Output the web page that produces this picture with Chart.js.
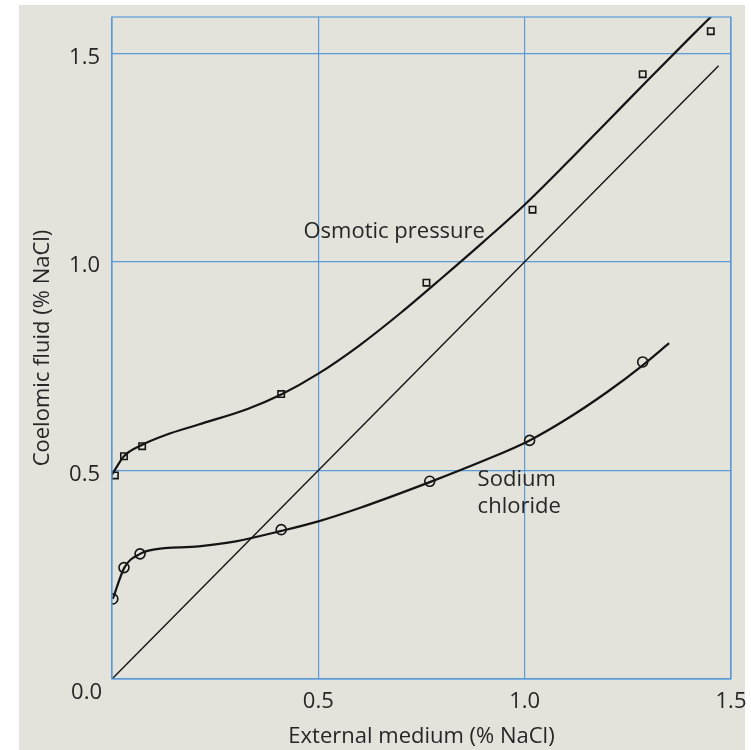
<!DOCTYPE html>
<html>
<head>
<meta charset="utf-8">
<script src="https://cdn.jsdelivr.net/npm/chart.js@4/dist/chart.umd.min.js"></script>
<style>
    html, body { margin: 0; padding: 0; background: #ffffff; }
    #wrap { width: 751px; height: 750px; }
</style>
</head>
<body>
<div id="wrap"><canvas id="chart" width="751" height="750"></canvas></div>
<script>
// measured points (squares = osmotic pressure, circles = sodium chloride)
const osmoticX = [0.007, 0.029, 0.073, 0.41, 0.762, 1.019, 1.286, 1.451]
const osmoticY = [0.488, 0.534, 0.558, 0.683, 0.95, 1.125, 1.45, 1.553]
const sodiumX = [0.002, 0.029, 0.068, 0.41, 0.77, 1.012, 1.286]
const sodiumY = [0.192, 0.267, 0.30, 0.358, 0.474, 0.572, 0.76]

// hand-drawn fitted curves
const osmoticCurveX = [0.0, 0.03, 0.07, 0.13, 0.21, 0.33, 0.41, 0.5, 0.6, 0.7, 0.8, 0.9, 1.0, 1.1, 1.2, 1.3, 1.4, 1.456]
const osmoticCurveY = [0.49, 0.535, 0.56, 0.585, 0.61, 0.648, 0.682, 0.732, 0.8, 0.878, 0.962, 1.048, 1.137, 1.235, 1.336, 1.437, 1.537, 1.592]
const sodiumCurveX = [0.002, 0.03, 0.068, 0.1, 0.21, 0.3, 0.41, 0.5, 0.6, 0.77, 0.9, 1.012, 1.1, 1.2, 1.286, 1.35]
const sodiumCurveY = [0.192, 0.267, 0.30, 0.31, 0.318, 0.33, 0.355, 0.378, 0.41, 0.472, 0.523, 0.572, 0.622, 0.688, 0.752, 0.805]

// isosmotic line
const isoX = [0, 1.47]
const isoY = [0, 1.47]

const xTicks = [0, 0.5, 1.0, 1.5]
const yTicks = [0, 0.5, 1.0, 1.5]

const bg = "#e3e3dc"
const gridBlue = "#5b9bd8"
const ink = "#141414"
const textColor = "#262626"
const fontFamily = "'Open Sans', 'DejaVu Sans', sans-serif"

const toPoints = (xs, ys) => xs.map((x, i) => ({ x, y: ys[i] }))

const backdrop = {
    id: "backdrop",
    beforeDraw(chart) {
        const ctx = chart.ctx
        ctx.save()
        ctx.fillStyle = bg
        ctx.fillRect(19, 5, 726, 745)
        ctx.restore()
    },
    afterDatasetsDraw(chart) {
        const { ctx, chartArea, scales } = chart
        ctx.save()
        // frame
        ctx.strokeStyle = gridBlue
        ctx.lineWidth = 1.2
        ctx.strokeRect(chartArea.left, chartArea.top, chartArea.right - chartArea.left, chartArea.bottom - chartArea.top)
        // curve labels
        ctx.fillStyle = textColor
        ctx.font = "22px " + fontFamily
        ctx.textBaseline = "middle"
        ctx.textAlign = "left"
        ctx.fillText("Osmotic pressure", scales.x.getPixelForValue(0.464), scales.y.getPixelForValue(1.072))
        ctx.fillText("Sodium", scales.x.getPixelForValue(0.886), scales.y.getPixelForValue(0.478))
        ctx.fillText("chloride", scales.x.getPixelForValue(0.886), scales.y.getPixelForValue(0.413))
        // shared origin label
        ctx.font = "22px " + fontFamily
        ctx.textAlign = "right"
        ctx.fillText("0.0", chartArea.left - 10, chartArea.bottom + 14)
        ctx.restore()
    },
}

new Chart(document.getElementById("chart"), {
    type: "scatter",
    data: {
        datasets: [
            {
                label: "Isosmotic",
                type: "line",
                data: toPoints(isoX, isoY),
                borderColor: ink,
                borderWidth: 1.4,
                pointRadius: 0,
                fill: false,
            },
            {
                label: "Osmotic curve",
                type: "line",
                data: toPoints(osmoticCurveX, osmoticCurveY),
                borderColor: ink,
                borderWidth: 2.2,
                pointRadius: 0,
                cubicInterpolationMode: "monotone",
                fill: false,
            },
            {
                label: "Sodium curve",
                type: "line",
                data: toPoints(sodiumCurveX, sodiumCurveY),
                borderColor: ink,
                borderWidth: 2.2,
                pointRadius: 0,
                cubicInterpolationMode: "monotone",
                fill: false,
            },
            {
                label: "Osmotic pressure",
                data: toPoints(osmoticX, osmoticY),
                pointStyle: "rect",
                pointRadius: 4.5,
                borderColor: ink,
                borderWidth: 1.6,
                backgroundColor: bg,
            },
            {
                label: "Sodium chloride",
                data: toPoints(sodiumX, sodiumY),
                pointStyle: "circle",
                pointRadius: 5,
                borderColor: ink,
                borderWidth: 1.6,
                backgroundColor: bg,
            },
        ],
    },
    options: {
        responsive: false,
        animation: false,
        layout: {
            padding: { top: 17, right: 20, left: 0, bottom: 0 },
        },
        plugins: {
            legend: { display: false },
            tooltip: { enabled: false },
        },
        scales: {
            x: {
                type: "linear",
                min: 0,
                max: 1.5,
                afterBuildTicks: (scale) => {
                    scale.ticks = xTicks.map((v) => ({ value: v }))
                },
                afterFit: (scale) => {
                    scale.height = 71
                    scale.paddingLeft = 0
                    scale.paddingRight = 0
                },
                grid: { color: gridBlue, lineWidth: 1.2, drawTicks: false },
                border: { display: false },
                ticks: {
                    padding: 10,
                    color: textColor,
                    font: { family: fontFamily, size: 22 },
                    maxRotation: 0,
                    callback: (v) => (v === 0 ? "" : v.toFixed(1)),
                },
                title: {
                    display: true,
                    text: "External medium (% NaCl)",
                    color: textColor,
                    font: { family: fontFamily, size: 22 },
                    padding: { top: 2, bottom: 0 },
                },
            },
            y: {
                type: "linear",
                min: 0,
                max: 1.587,
                afterBuildTicks: (scale) => {
                    scale.ticks = yTicks.map((v) => ({ value: v }))
                },
                afterFit: (scale) => {
                    scale.width = 112
                    scale.paddingTop = 0
                    scale.paddingBottom = 0
                },
                grid: { color: gridBlue, lineWidth: 1.2, drawTicks: false },
                border: { display: false },
                ticks: {
                    padding: 12,
                    labelOffset: 4,
                    color: textColor,
                    font: { family: fontFamily, size: 22 },
                    callback: (v) => (v === 0 ? "" : v.toFixed(1)),
                },
                title: {
                    display: true,
                    text: "Coelomic fluid (% NaCl)",
                    color: textColor,
                    font: { family: fontFamily, size: 22 },
                    padding: { top: 30, bottom: 0 },
                },
            },
        },
    },
    plugins: [backdrop],
})
</script>
</body>
</html>
